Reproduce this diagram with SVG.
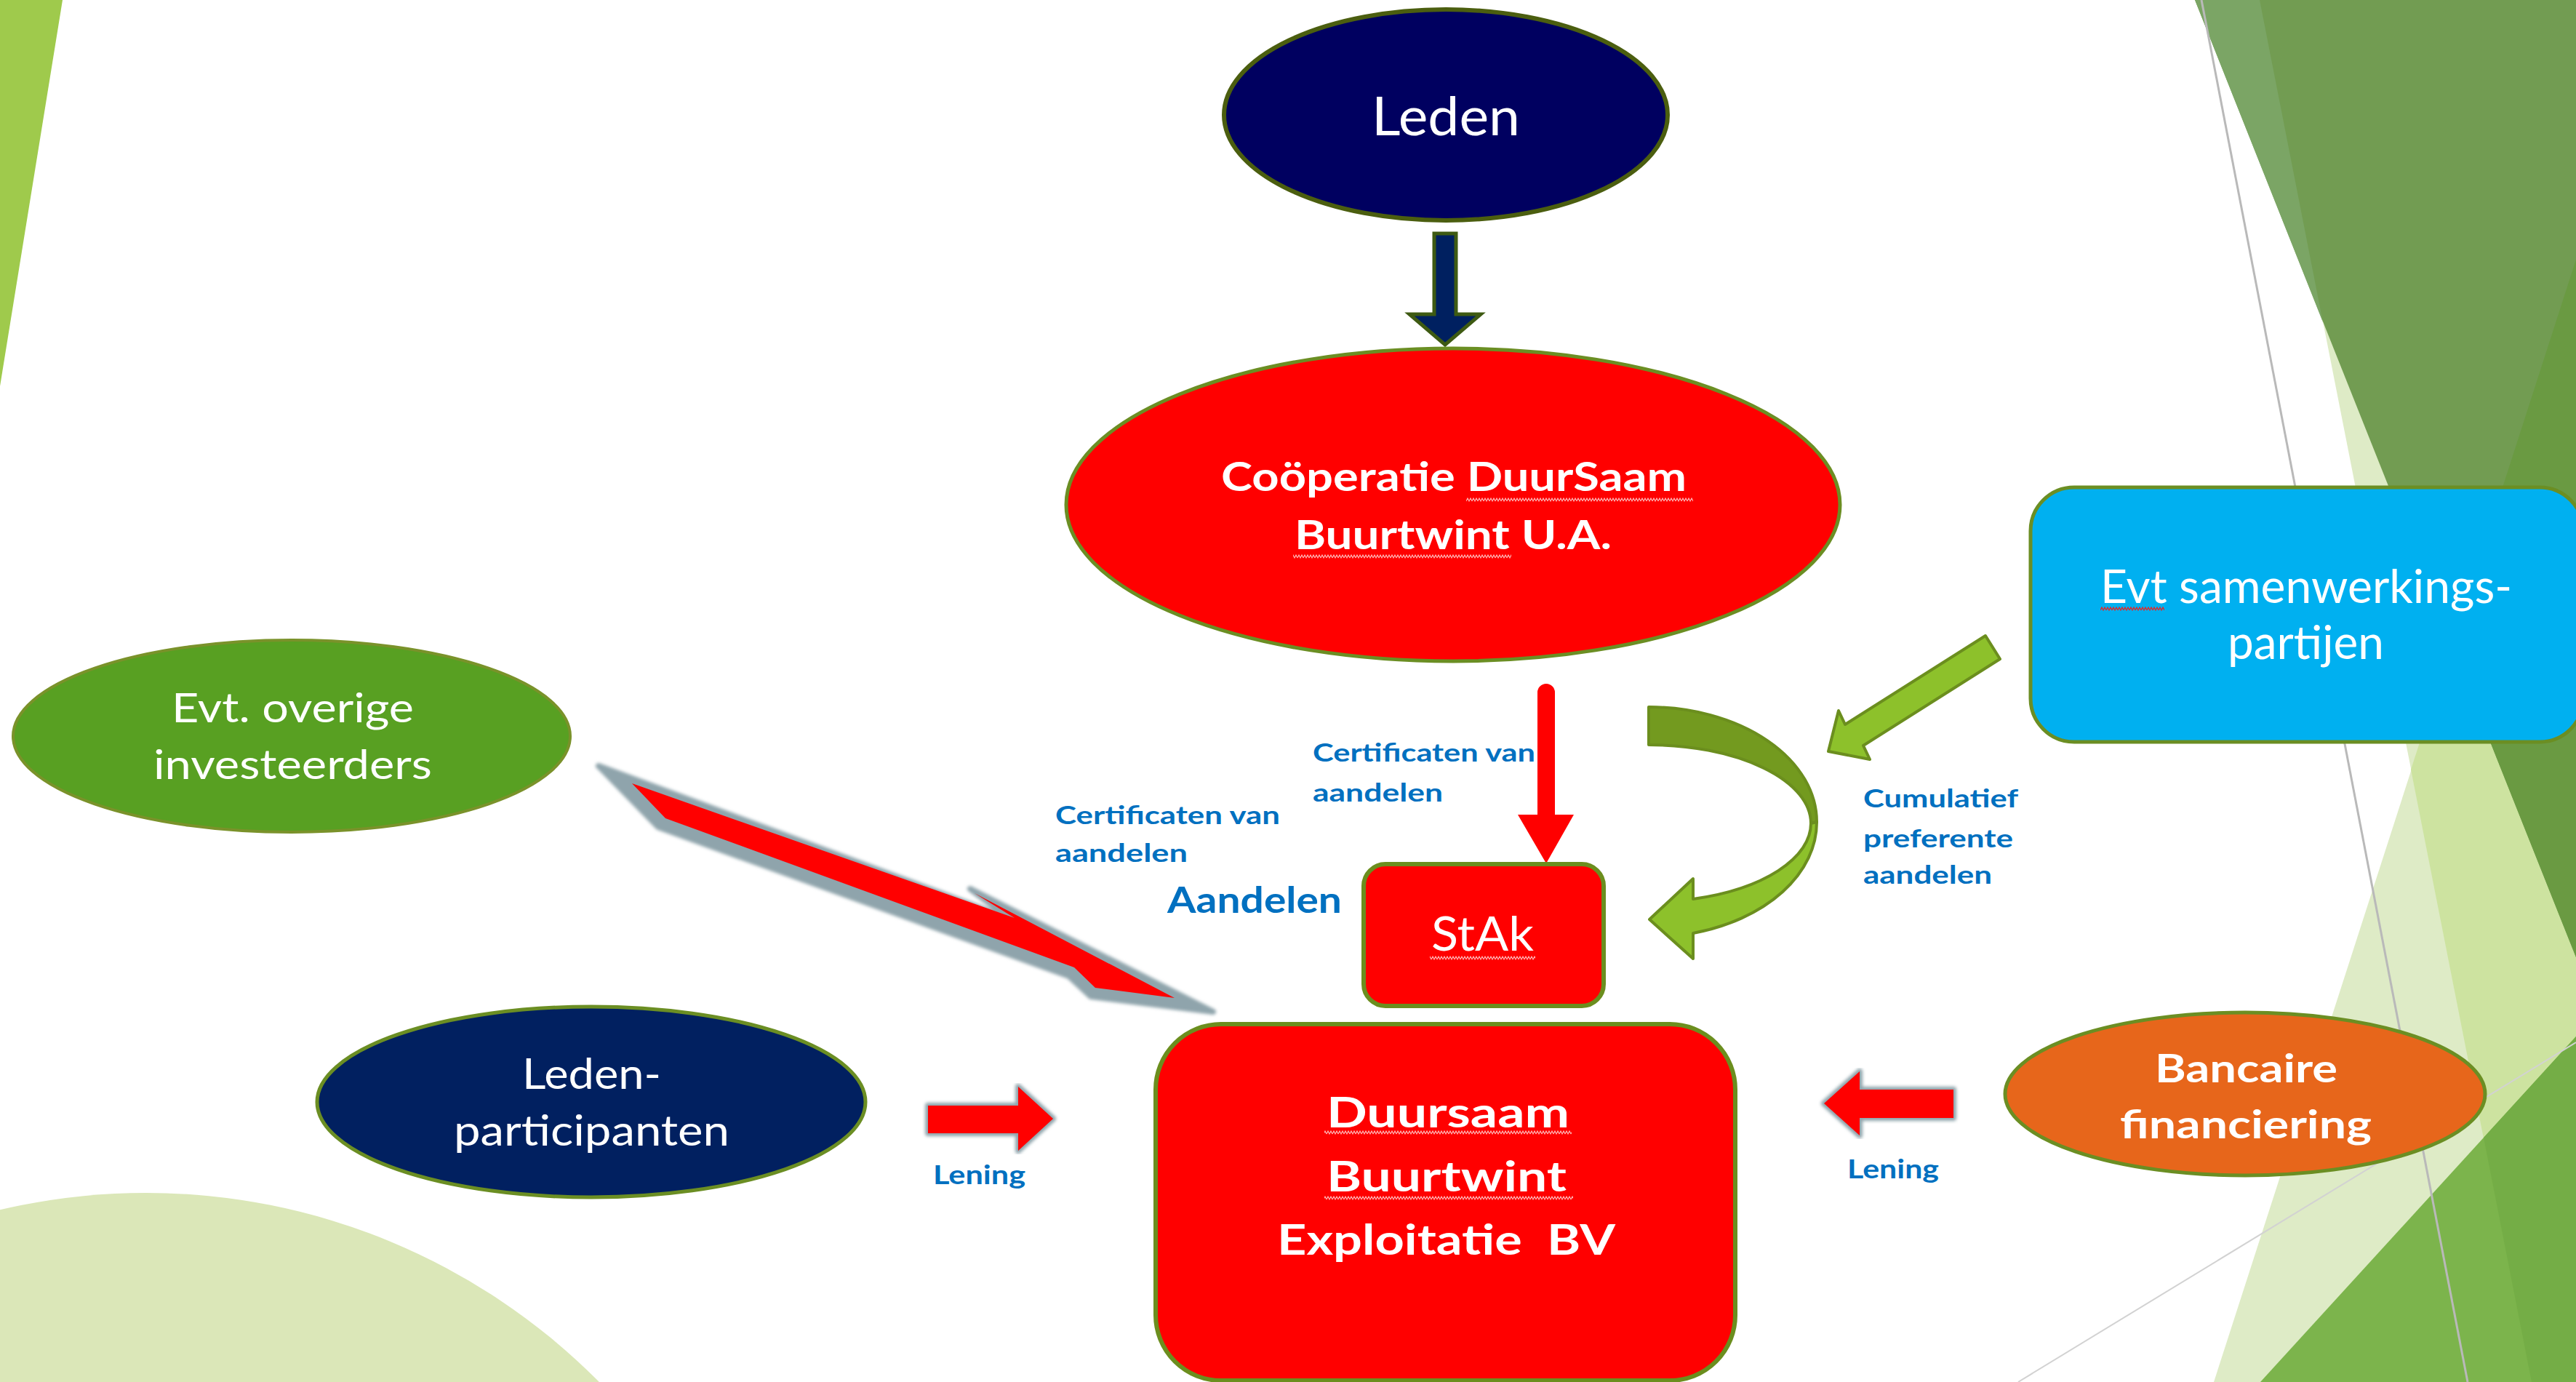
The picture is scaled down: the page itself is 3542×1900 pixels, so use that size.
<svg xmlns="http://www.w3.org/2000/svg" width="3542" height="1900" viewBox="0 0 3542 1900">
<style>
.t{font-family:Lato,"Liberation Sans",sans-serif;fill:#ffffff}
.b{font-weight:700}
.lbl{font-family:Lato,"Liberation Sans",sans-serif;fill:#0070c0;font-weight:700}
.node{stroke:#6b8e23;stroke-width:5}
.redarrow{fill:#ff0000}
.grayedge{fill:#8fa4ac;stroke:#8fa4ac;stroke-width:8;stroke-linejoin:round}
</style>
<defs>
<pattern id="sqw" width="8" height="6" patternUnits="userSpaceOnUse"><path d="M0,5 L2,1 L4,5 L6,1 L8,5" fill="none" stroke="#ffb8b8" stroke-width="1.1"/></pattern>
<pattern id="sqr" width="8" height="6" patternUnits="userSpaceOnUse"><path d="M0,5 L2,1 L4,5 L6,1 L8,5" fill="none" stroke="#e02828" stroke-width="1.3"/></pattern>
<filter id="soft" x="-5%" y="-5%" width="110%" height="110%"><feGaussianBlur stdDeviation="2"/></filter>
</defs>
<rect width="3542" height="1900" fill="#ffffff"/>
<g id="background">
<polygon points="0,0 86,0 0,531" fill="#9fca4c"/>
<circle cx="201" cy="2516" r="876" fill="#dbe7b8"/>
<polygon points="3107,0 3542,0 3542,1900 3481,1900" fill="#deebc6"/>
<polygon points="3542,357 3542,1900 3044,1900" fill="#deebc6"/>
<polygon points="3542,357 3542,1900 3481,1900 3315,1058" fill="#cde3a0"/>
<polygon points="3018,0 3542,0 3542,1316" fill="#729c52"/>
<polygon points="3018,0 3107,0 3194,443" fill="#7ba565"/>
<polygon points="3542,357 3371,887 3542,1316" fill="#6a9a42"/>
<polygon points="3108,1900 3542,1425 3542,1900" fill="#7cb44c"/>
<polygon points="3415,1564 3542,1425 3542,1900 3481,1900" fill="#74ad46"/>
<line x1="3027" y1="0" x2="3393" y2="1900" stroke="#b9b9b9" stroke-width="3"/>
<line x1="2775" y1="1900" x2="3542" y2="1433" stroke="#d2d2d2" stroke-width="2"/>
</g>
<g id="connectors">
<polygon points="1972,321 2002,321 2002,432 2036,432 1987,474 1938,432 1972,432" fill="#002060" stroke="#3e5a12" stroke-width="5"/>
<path d="M2114,952 A12,12 0 0 1 2138,952 L2138,1120 L2164,1120 L2126,1187 L2087,1120 L2114,1120 Z" class="redarrow"/>
<polygon class="grayedge" filter="url(#soft)" points="823,1053 1390,1264 1334,1222 1668,1391 1500,1370 1470,1342 905,1137"/>
<polygon class="redarrow" points="869,1077 1395,1262 1340,1228 1615,1372 1506,1358 1477,1330 915,1125"/>
<polygon class="grayedge" filter="url(#soft)" points="1276,1520 1400,1520 1400,1494 1448,1538 1400,1582 1400,1558 1276,1558"/>
<polygon class="redarrow" points="1276,1520 1400,1520 1400,1494 1448,1538 1400,1582 1400,1558 1276,1558"/>
<polygon class="grayedge" filter="url(#soft)" points="2508,1517 2557,1473 2557,1498 2686,1498 2686,1537 2557,1537 2557,1561"/>
<polygon class="redarrow" points="2508,1517 2557,1473 2557,1498 2686,1498 2686,1537 2557,1537 2557,1561"/>
<path d="M2267,972 A231,158 0 0 1 2498,1130 L2490,1132 A223,108 0 0 0 2267,1024 Z" fill="#739a1f" stroke="#6b8e1e" stroke-width="4" stroke-linejoin="round"/>
<path d="M2498,1130 A231,158 0 0 1 2328,1283 L2328,1318 L2268,1264 L2328,1208 L2328,1236 A223,108 0 0 0 2490,1132 Z" fill="#8dc12b" stroke="#6b8e1e" stroke-width="4" stroke-linejoin="round"/>
<polygon points="2730,874 2750,906 2562,1025 2571,1044 2514,1033 2528,977 2537,996" fill="#8dc12b" stroke="#6b8e1e" stroke-width="4" stroke-linejoin="round"/>
</g>
<g id="labels">
<text class="lbl" x="1805" y="1047" font-size="35" textLength="306" lengthAdjust="spacingAndGlyphs">Certificaten van</text>
<text class="lbl" x="1805" y="1102" font-size="35" textLength="179" lengthAdjust="spacingAndGlyphs">aandelen</text>
<text class="lbl" x="1451" y="1133" font-size="35" textLength="309" lengthAdjust="spacingAndGlyphs">Certificaten van</text>
<text class="lbl" x="1451" y="1185" font-size="35" textLength="182" lengthAdjust="spacingAndGlyphs">aandelen</text>
<text class="lbl" x="1605" y="1255" font-size="49" textLength="240" lengthAdjust="spacingAndGlyphs">Aandelen</text>
<text class="lbl" x="2562" y="1110" font-size="35" textLength="213" lengthAdjust="spacingAndGlyphs">Cumulatief</text>
<text class="lbl" x="2562" y="1165" font-size="35" textLength="206" lengthAdjust="spacingAndGlyphs">preferente</text>
<text class="lbl" x="2562" y="1215" font-size="35" textLength="177" lengthAdjust="spacingAndGlyphs">aandelen</text>
<text class="lbl" x="1283" y="1628" font-size="36" textLength="127" lengthAdjust="spacingAndGlyphs">Lening</text>
<text class="lbl" x="2540" y="1620" font-size="36" textLength="126" lengthAdjust="spacingAndGlyphs">Lening</text>
</g>
<g id="node-leden">
<ellipse cx="1988" cy="158" rx="305" ry="145" fill="#000060" stroke="#4b5e0f" stroke-width="6"/>
<text class="t" x="1886" y="186" font-size="74" textLength="204" lengthAdjust="spacingAndGlyphs">Leden</text>
</g>
<g id="node-cooperatie">
<ellipse cx="1998" cy="694" rx="532" ry="215" fill="#ff0000" class="node"/>
<text class="t b" x="1679" y="675" font-size="56" textLength="640" lengthAdjust="spacingAndGlyphs">Coöperatie DuurSaam</text>
<text class="t b" x="1780" y="755" font-size="56" textLength="436" lengthAdjust="spacingAndGlyphs">Buurtwint U.A.</text>
<rect x="2016" y="684" width="312" height="6" fill="url(#sqw)"/>
<rect x="1778" y="762" width="300" height="6" fill="url(#sqw)"/>
</g>
<g id="node-samenwerkingspartijen">
<rect x="2792" y="670" width="760" height="350" rx="60" fill="#00b0f0" class="node"/>
<text class="t" x="2888" y="829" font-size="64" textLength="566" lengthAdjust="spacingAndGlyphs">Evt samenwerkings-</text>
<text class="t" x="3063" y="906" font-size="64" textLength="215" lengthAdjust="spacingAndGlyphs">partijen</text>
<rect x="2888" y="834" width="88" height="6" fill="url(#sqr)"/>
</g>
<g id="node-overige-investeerders">
<ellipse cx="401" cy="1012" rx="383" ry="132" fill="#58a022" stroke="#7a922a" stroke-width="4"/>
<text class="t" x="236" y="993" font-size="57" textLength="333" lengthAdjust="spacingAndGlyphs">Evt. overige</text>
<text class="t" x="211" y="1071" font-size="57" textLength="383" lengthAdjust="spacingAndGlyphs">investeerders</text>
</g>
<g id="node-stak">
<rect x="1875" y="1188" width="330" height="195" rx="30" fill="#ff0000" stroke="#6b8e1e" stroke-width="6"/>
<text class="t" x="1968" y="1307" font-size="65" textLength="141" lengthAdjust="spacingAndGlyphs">StAk</text>
<rect x="1966" y="1314" width="145" height="6" fill="url(#sqw)"/>
</g>
<g id="node-leden-participanten">
<ellipse cx="813" cy="1515" rx="377" ry="131" fill="#012060" class="node"/>
<text class="t" x="718" y="1497" font-size="58" textLength="191" lengthAdjust="spacingAndGlyphs">Leden-</text>
<text class="t" x="624" y="1575" font-size="58" textLength="379" lengthAdjust="spacingAndGlyphs">participanten</text>
</g>
<g id="node-exploitatie-bv">
<rect x="1589" y="1408" width="797" height="490" rx="90" fill="#ff0000" stroke="#6b8e1e" stroke-width="6"/>
<text class="t b" x="1824" y="1550" font-size="58" textLength="334" lengthAdjust="spacingAndGlyphs">Duursaam</text>
<text class="t b" x="1824" y="1638" font-size="58" textLength="330" lengthAdjust="spacingAndGlyphs">Buurtwint</text>
<text class="t b" x="1756" y="1725" font-size="58" textLength="465" lengthAdjust="spacingAndGlyphs" xml:space="preserve">Exploitatie  BV</text>
<rect x="1821" y="1554" width="340" height="6" fill="url(#sqw)"/>
<rect x="1821" y="1644" width="342" height="6" fill="url(#sqw)"/>
</g>
<g id="node-bancaire">
<ellipse cx="3087" cy="1504" rx="330" ry="112" fill="#e7661b" class="node"/>
<text class="t b" x="2963" y="1488" font-size="54" textLength="251" lengthAdjust="spacingAndGlyphs">Bancaire</text>
<text class="t b" x="2915" y="1565" font-size="54" textLength="346" lengthAdjust="spacingAndGlyphs">financiering</text>
</g>
</svg>
